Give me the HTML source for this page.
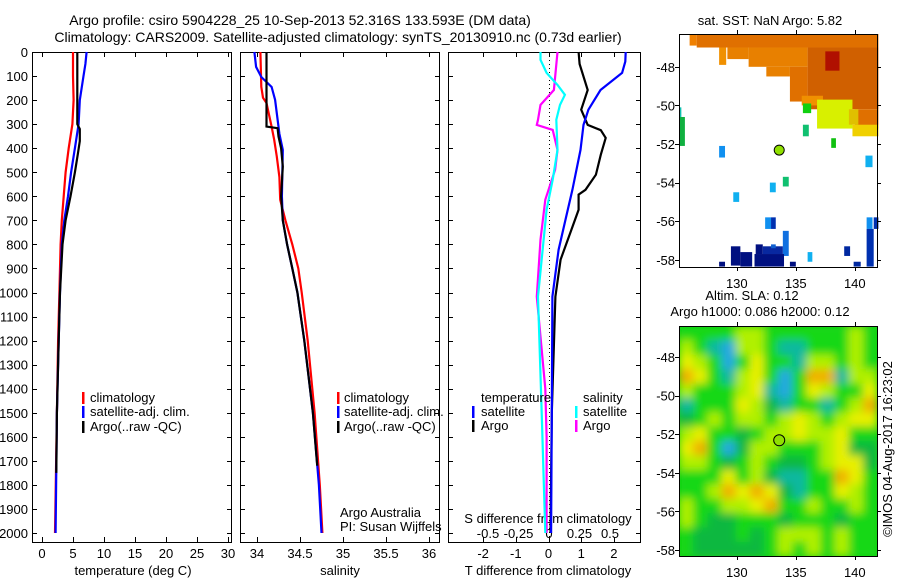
<!DOCTYPE html>
<html><head><meta charset="utf-8"><style>
body{margin:0;background:#fff}
svg{display:block;font-family:"Liberation Sans",sans-serif;font-size:13px}
</style></head><body>
<svg id="fig" width="900" height="580" viewBox="0 0 900 580">
<defs>
<clipPath id="slaClip"><rect x="679" y="326" width="198" height="230"/></clipPath>
<filter id="blur" x="-5%" y="-5%" width="110%" height="110%"><feGaussianBlur stdDeviation="4.5" edgeMode="duplicate"/></filter>
</defs>
<rect width="900" height="580" fill="#fff"/>
<text x="300" y="25" text-anchor="middle" font-size="14">Argo profile: csiro 5904228_25 10-Sep-2013 52.316S 133.593E (DM data)</text>
<text x="338" y="42" text-anchor="middle" font-size="14">Climatology: CARS2009. Satellite-adjusted climatology: synTS_20130910.nc (0.73d earlier)</text>
<g id="g"></g>
</svg>
<script>
const depthTicks=[0,100,200,300,400,500,600,700,800,900,1000,1100,1200,1300,1400,1500,1600,1700,1800,1900,2000];
const tTicks=[0,5,10,15,20,25,30];
const sTicks=[34,34.5,35,35.5,36];
const sTickLabels=["34","34.5","35","35.5","36"];
const dTTicks=[-2,-1,0,1,2];
const dSTicks=[-0.5,-0.25,0,0.25,0.5];
const dSLabels=["-0.5","-0.25","0","0.25","0.5"];
const tClim=[[0,5.0],[100,5.0],[200,5.1],[300,4.9],[400,4.3],[500,3.8],[600,3.5],[700,3.2],[800,3.0],[1000,2.8],[1200,2.6],[1500,2.4],[2000,2.1]];
const tSat=[[0,7.2],[50,7.0],[100,6.7],[200,6.1],[300,5.9],[400,5.3],[500,4.7],[600,4.2],[700,3.6],[800,3.2],[1000,2.9],[1200,2.7],[1500,2.4],[2000,2.2]];
const tArgo=[[0,5.7],[300,5.7],[320,6.1],[370,6.1],[420,5.8],[500,5.3],[600,4.6],[700,3.8],[800,3.3],[1000,2.9],[1200,2.7],[1500,2.4],[1750,2.3]];
const sClim=[[0,34.04],[145,34.05],[190,34.07],[212,34.11],[310,34.17],[365,34.2],[435,34.23],[520,34.26],[614,34.27],[700,34.33],[800,34.41],[900,34.48],[1000,34.52],[1200,34.59],[1500,34.67],[1800,34.73],[2000,34.76]];
const sSat=[[0,33.97],[62,33.99],[104,34.05],[145,34.17],[199,34.21],[340,34.26],[407,34.3],[600,34.29],[700,34.3],[800,34.35],[900,34.41],[1000,34.47],[1200,34.55],[1500,34.65],[1800,34.72],[2000,34.75]];
const sArgo=[[0,34.11],[310,34.11],[317,34.24],[351,34.25],[400,34.28],[476,34.3],[600,34.28],[700,34.3],[800,34.35],[900,34.41],[1000,34.47],[1200,34.55],[1500,34.65],[1720,34.7]];
const dTSat=[[0,2.36],[40,2.35],[87,2.25],[158,1.59],[240,1.22],[303,1.07],[407,0.98],[573,0.73],[697,0.52],[822,0.31],[1017,0.12],[1500,0.1],[2000,0.08]];
const dTArgo=[[0,0.92],[50,0.95],[158,1.2],[240,1.0],[303,1.2],[325,1.6],[357,1.75],[427,1.6],[510,1.45],[573,1.13],[593,0.92],[656,0.92],[739,0.7],[863,0.37],[1017,0.21],[1500,0.1],[2000,0.06]];
const dSSat=[[0,-0.07],[33,-0.07],[87,-0.02],[137,0.07],[178,0.13],[220,0.09],[282,0.06],[407,0.07],[531,0.03],[656,-0.02],[1017,-0.09],[1500,-0.06],[2000,-0.03]];
const dSArgo=[[0,0.07],[158,0.04],[220,-0.07],[282,-0.09],[303,-0.1],[324,0.03],[407,0.07],[490,0.05],[614,-0.03],[780,-0.07],[1017,-0.1],[1400,-0.03],[1600,-0.02],[2000,-0.02]];
const sstCells=[[126.0,126.6,-46.3,-46.9,'#f08000'],[126.6,142,-46.3,-47.0,'#e07000'],[128.5,129.1,-47.0,-47.9,'#f09000'],[129.2,131.0,-47.0,-47.6,'#e88000'],[131,136,-47.0,-48.0,'#e88000'],[132.5,134.5,-48.0,-48.5,'#e88000'],[134.5,136,-48.0,-49.8,'#e07000'],[136,142,-47,-50.2,'#d06000'],[137.5,138.7,-47.2,-48.2,'#b01000'],[135.5,137.3,-49.5,-50,'#f09000'],[140,142,-50.2,-51.2,'#e07000'],[136.8,139.8,-49.7,-51.2,'#d8f000'],[139.5,140.3,-50.2,-51.0,'#e0c000'],[139.8,142,-51,-51.6,'#f0d000'],[135.6,136.3,-49.9,-50.4,'#10d010'],[135.6,136.1,-51,-51.6,'#10c070'],[138,138.4,-51.7,-52.2,'#10c010'],[133.9,134.4,-53.7,-54.2,'#10c070'],[125.1,125.3,-50.1,-50.6,'#10c0b0'],[125.1,125.6,-50.6,-52.1,'#10b040'],[128.5,129,-52.1,-52.7,'#1090f0'],[132.8,133.3,-54,-54.5,'#10b0f0'],[129.7,130.2,-54.5,-55,'#10b0f0'],[140.9,141.5,-52.6,-53.2,'#10b0f0'],[132.4,132.9,-55.8,-56.4,'#1090f0'],[132.9,133.3,-55.8,-56.4,'#0030b0'],[141,141.5,-55.8,-56.4,'#1090f0'],[141.6,142,-55.8,-56.4,'#0030b0'],[141,141.6,-56.4,-58.35,'#0030b0'],[139.1,139.6,-57.3,-57.8,'#0028a0'],[136,136.4,-57.6,-58.1,'#10b0f0'],[133.9,134.4,-56.5,-57.8,'#1070e0'],[129.5,130.3,-57.3,-58.3,'#001080'],[130.3,131.3,-57.6,-58.35,'#001080'],[131.6,132.2,-57.2,-57.7,'#001080'],[131.5,134,-57.7,-58.35,'#001080'],[132.2,133.9,-57.3,-57.7,'#0828a0'],[132.9,133.3,-57.2,-57.4,'#1060d0'],[128.5,129,-58.1,-58.35,'#001080'],[134.5,135,-58.1,-58.35,'#001080'],[139.9,140.5,-58.1,-58.35,'#0028a0']];
const slaGrid=[
[1,1,1,1,2,2,1,1,1,1,1,1,2,1],
[2,1,-1,-2,2,2,1,-1,-1,1,1,1,2,1],
[3,2,1,-2,1,3,1,1,-1,2,2,1,2,1],
[4,3,1,-1,2,3,1,-2,1,4,4,-1,2,2],
[2,1,1,1,2,3,-1,-2,1,3,2,1,1,3],
[-1,1,1,1,3,2,0,-1,1,1,-1,1,2,4],
[0,1,2,1,2,2,1,2,3,2,1,2,3,3],
[2,3,1,1,0,1,2,2,3,2,2,3,1,1],
[3,4,1,-2,0,2,2,1,1,1,2,3,0,0],
[2,2,1,0,1,2,1,0,0,1,2,3,3,0],
[1,1,1,3,1,2,0,-1,-1,1,1,4,3,1],
[1,1,2,4,3,4,3,0,-1,1,1,3,2,1],
[2,1,1,2,2,3,4,1,1,2,1,1,2,1],
[2,1,0,0,1,1,1,0,1,1,1,0,1,1],
[1,0,0,0,1,0,1,2,2,2,1,2,1,1],
[1,0,0,0,0,0,1,2,1,2,1,2,1,1]];
const slaColors={"-2":"#20a8e0","-1":"#10b8a0","0":"#10b840","1":"#18d818","2":"#b0f000","3":"#e8f000","4":"#f0b000"};
const latTicks=[-48,-50,-52,-54,-56,-58];
const lonTicks=[130,135,140];

const NS="http://www.w3.org/2000/svg";
const G=document.getElementById('g');
function el(tag,attrs,parent,txt){const e=document.createElementNS(NS,tag);for(const k in attrs)e.setAttribute(k,attrs[k]);if(txt!==undefined)e.textContent=txt;(parent||G).appendChild(e);return e;}
const TOP=52,BOT=542;
const yD=d=>52+d*0.2405;
const xT=t=>42+t*6.2;
const xS=s=>257+(s-34)*86;
const xDT=d=>548.5+d*32.7;
const xDS=s=>549+s*122;
const panels=[{x0:32,x1:231,name:'temperature-panel'},{x0:240,x1:439,name:'salinity-panel'},{x0:448,x1:640,name:'difference-panel'}];
panels.forEach((p,i)=>{
  const r=el('rect',{x:p.x0+.5,y:TOP+.5,width:p.x1-p.x0,height:BOT-TOP,fill:'none',stroke:'#000','stroke-width':1});
  
  
  depthTicks.forEach(d=>{
    const y=Math.round(yD(d))+.5;
    const t=el('line',{x1:p.x0,x2:p.x0+5,y1:y,y2:y,stroke:'#000'});
    
    
    el('line',{x1:p.x1-4,x2:p.x1,y1:y,y2:y,stroke:'#000'});
  });
});
depthTicks.forEach(d=>{
  const t=el('text',{x:28,y:yD(d)+5,'text-anchor':'end'},G,String(d));
  
  
});
function xticks(vals,labels,fx,ylab,withTicks){
  vals.forEach((v,i)=>{
    const x=Math.round(fx(v))+.5;
    if(withTicks){el('line',{x1:x,x2:x,y1:TOP,y2:TOP+5,stroke:'#000'});el('line',{x1:x,x2:x,y1:BOT-5,y2:BOT,stroke:'#000'});}
    const t=el('text',{x:fx(v),y:ylab,'text-anchor':'middle'},G,labels[i]);
    
    
  });
}
xticks(tTicks,tTicks.map(String),xT,558,true);
xticks(sTicks,sTickLabels,xS,558,true);
xticks(dTTicks,dTTicks.map(String),xDT,558,true);
xticks(dSTicks,dSLabels,xDS,538,false);
function axisLabel(x,y,txt,name){const t=el('text',{x:x,y:y,'text-anchor':'middle'},G,txt);}
axisLabel(133,575,'temperature (deg C)','temperature-axis-title');
axisLabel(340,575,'salinity','salinity-axis-title');
axisLabel(548,575,'T difference from climatology','t-diff-axis-title');
axisLabel(548,523,'S difference from climatology','s-diff-axis-title');
function line(data,fx,color,name){
  const pts=data.map(d=>fx(d[1]).toFixed(1)+','+yD(d[0]).toFixed(1)).join(' ');
  const l=el('polyline',{points:pts,fill:'none',stroke:color,'stroke-width':2.2});
  
  
}
line(tClim,xT,'#f00','temp-climatology-line');
line(tSat,xT,'#00f','temp-satellite-line');
line(tArgo,xT,'#000','temp-argo-line');
line(sClim,xS,'#f00','sal-climatology-line');
line(sSat,xS,'#00f','sal-satellite-line');
line(sArgo,xS,'#000','sal-argo-line');
const z=el('line',{x1:549.5,x2:549.5,y1:TOP,y2:BOT,stroke:'#000','stroke-dasharray':'1,3'});


line(dSArgo,xDS,'#f0f','sdiff-argo-line');
line(dSSat,xDS,'#0ff','sdiff-satellite-line');
line(dTArgo,xDT,'#000','tdiff-argo-line');
line(dTSat,xDT,'#00f','tdiff-satellite-line');
function legendEntry(bx,tx,y,color,txt){
  const g=el('g',{});
  
  
  if(color)el('rect',{x:bx,y:y-10,width:2.5,height:12,fill:color},g);
  el('text',{x:tx,y:y},g,txt);
}
[[82,90],[337,344]].forEach(([bx,tx])=>{
  legendEntry(bx,tx,402,'#f00','climatology');
  legendEntry(bx,tx,416,'#00f','satellite-adj. clim.');
  legendEntry(bx,tx,431,'#000','Argo(..raw -QC)');
});
legendEntry(0,481,402,null,'temperature');
legendEntry(472,481,416,'#00f','satellite');
legendEntry(472,481,430,'#000','Argo');
legendEntry(0,583,402,null,'salinity');
legendEntry(575,583,416,'#0ff','satellite');
legendEntry(575,583,430,'#f0f','Argo');
legendEntry(0,340,517,null,'Argo Australia');
legendEntry(0,340,531,null,'PI: Susan Wijffels');

const MX0=679,MX1=877;
const lonX=l=>679+(l-125.1)*11.8;
function mapFrame(y0,y1,latY,name){
  const r=el('rect',{x:MX0+.5,y:y0+.5,width:MX1-MX0,height:y1-y0,fill:'none',stroke:'#000'});
  
  
  latTicks.forEach(l=>{const y=Math.round(latY(l))+.5;el('line',{x1:MX0-4,x2:MX0,y1:y,y2:y,stroke:'#000'});el('line',{x1:MX1,x2:MX1+4,y1:y,y2:y,stroke:'#000'});
    const t=el('text',{x:675,y:latY(l)+5,'text-anchor':'end'},G,String(l));});
  lonTicks.forEach(l=>{const x=Math.round(lonX(l))+.5;el('line',{x1:x,x2:x,y1:y0-4,y2:y0,stroke:'#000'});el('line',{x1:x,x2:x,y1:y1,y2:y1+4,stroke:'#000'});
    const t=el('text',{x:lonX(l),y:y1+21,'text-anchor':'middle'},G,String(l));});
}
const sstY=l=>34+(-46.3-l)*19.3;
sstCells.forEach(c=>{
  const r=el('rect',{x:lonX(c[0]),y:sstY(c[2]),width:(c[1]-c[0])*11.8,height:(c[2]-c[3])*19.3,fill:c[4]});
  
  
});
mapFrame(34,267,sstY,'sst-map-frame');
let m=el('circle',{cx:lonX(133.593),cy:sstY(-52.316),r:5,fill:'#90e000',stroke:'#000'});


axisLabel(770,25,'sat. SST: NaN Argo: 5.82','sst-map-title');

const slaY=l=>357+(-48-l)*19.3;
const SY0=326,SY1=556;
const rows=slaGrid.length,cols=slaGrid[0].length;
const cw=(MX1-MX0)/cols,ch=(SY1-SY0)/rows;
const clipG=el('g',{'clip-path':'url(#slaClip)'});
el('rect',{x:MX0,y:SY0,width:MX1-MX0,height:SY1-SY0,fill:'#18d018'},clipG);
const blurG=el('g',{filter:'url(#blur)'},clipG);
slaGrid.forEach((row,ri)=>row.forEach((v,ci)=>{
  const r=el('rect',{x:MX0+ci*cw,y:SY0+ri*ch,width:cw+.6,height:ch+.6,fill:slaColors[String(v)]},blurG);
  
  
}));
mapFrame(SY0,SY1,slaY,'sla-map-frame');
m=el('circle',{cx:lonX(133.593),cy:slaY(-52.316),r:5.5,fill:'#90e000',stroke:'#000'});


axisLabel(752,300,'Altim. SLA: 0.12','sla-map-title');
axisLabel(760,316,'Argo h1000: 0.086 h2000: 0.12','sla-map-subtitle');
const c=el('text',{x:0,y:0,'text-anchor':'middle',transform:'translate(892,449) rotate(-90)'},G,'©IMOS 04-Aug-2017 16:23:02');


</script>
</body></html>
